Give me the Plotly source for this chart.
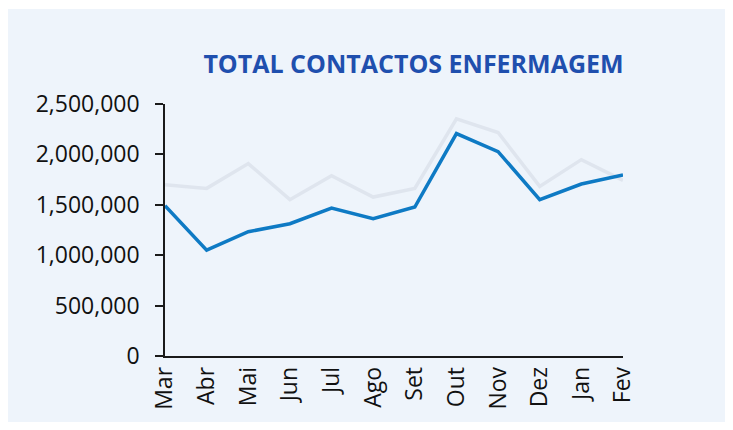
import plotly.graph_objects as go

months = ["Mar", "Abr", "Mai", "Jun", "Jul", "Ago", "Set", "Out", "Nov", "Dez", "Jan", "Fev"]
atual = [1490000, 1050000, 1233000, 1312000, 1468000, 1362000, 1478000, 2207000, 2028000, 1551000, 1706000, 1796000]
anterior = [1700000, 1663000, 1909000, 1551000, 1789000, 1577000, 1663000, 2353000, 2217000, 1683000, 1948000, 1743000]
yticks = [0, 500000, 1000000, 1500000, 2000000, 2500000]
ytick_text = ["0", "500,000", "1,000,000", "1,500,000", "2,000,000", "2,500,000"]

# page body has an 8px margin; figure coordinates = screen - 8
W, H = 717, 414
L, R, T, B = 157, 615, 96, 348

fig = go.Figure()
fig.add_trace(go.Scatter(x=months, y=anterior, mode="lines", name="Ano anterior",
                         line=dict(color="#DFE5EE", width=3.5), showlegend=False))
fig.add_trace(go.Scatter(x=months, y=atual, mode="lines", name="Ano atual",
                         line=dict(color="#0E7AC4", width=3.5), showlegend=False))

fig.add_shape(type="rect", xref="paper", yref="paper",
              x0=(0 - L) / (R - L), x1=(W - L) / (R - L),
              y0=(B - H) / (B - T), y1=(B - 1) / (B - T),
              fillcolor="#EEF4FB", line=dict(width=0), layer="below")

fig.update_layout(
    width=W, height=H,
    margin=dict(l=L, r=W - R, t=T, b=H - B),
    paper_bgcolor="white", plot_bgcolor="rgba(0,0,0,0)",
    title=dict(text="<b>TOTAL CONTACTOS ENFERMAGEM</b>", x=405.5 / W, xanchor="center",
               y=1 - 56 / H, yanchor="middle",
               font=dict(family="Open Sans", size=25, color="#1F4FAE")),
    font=dict(family="Open Sans", color="#111111"),
)
fig.update_xaxes(type="category", range=[0, 11], showgrid=False, showline=True,
                 linecolor="#1a1a1a", linewidth=1.5, ticks="", tickangle=-90,
                 tickfont=dict(size=23, color="#111111"), zeroline=False)
fig.update_yaxes(range=[0, 2500000], tickvals=yticks, ticktext=ytick_text, showgrid=False,
                 showline=True, linecolor="#1a1a1a", linewidth=1.5, ticks="outside",
                 ticklen=8, tickwidth=1.5, tickcolor="#1a1a1a",
                 tickfont=dict(size=23, color="#111111"), zeroline=False,
                 ticklabelstandoff=11)

fig.write_html("out.html")
